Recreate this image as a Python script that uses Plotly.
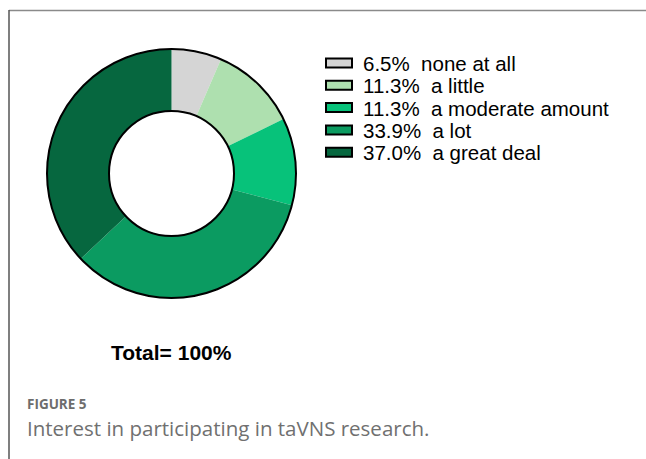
import plotly.graph_objects as go

# Survey responses: interest in participating in taVNS research
categories = ["none at all", "a little", "a moderate amount", "a lot", "a great deal"]
percentages = [6.5, 11.3, 11.3, 33.9, 37.0]
colors = ["#d5d5d5", "#aee0af", "#07c27a", "#0b9b61", "#06673f"]

W, H = 646, 459

def px(x):
    return x / W

def py(y):
    return 1 - y / H

# donut geometry in pixels
cx, cy, r_out, r_in = 171.5, 173.5, 124.5, 62.5

fig = go.Figure(
    go.Pie(
        labels=categories,
        values=percentages,
        hole=r_in / r_out,
        sort=False,
        direction="clockwise",
        rotation=0,
        marker=dict(colors=colors, line=dict(width=0)),
        textinfo="none",
        hoverinfo="label+percent",
        showlegend=False,
        domain=dict(x=[px(cx - r_out), px(cx + r_out)], y=[py(cy + r_out), py(cy - r_out)]),
    )
)

shapes = []
annotations = []

# outer and inner ring outlines
for r in (r_out, r_in):
    shapes.append(dict(type="circle", xref="paper", yref="paper",
                       x0=px(cx - r), x1=px(cx + r), y0=py(cy + r), y1=py(cy - r),
                       line=dict(color="black", width=2), fillcolor="rgba(0,0,0,0)"))

# legend drawn as boxes plus text
row0, step = 63, 22.3
for i, (cat, pct, col) in enumerate(zip(categories, percentages, colors)):
    yc = row0 + i * step
    shapes.append(dict(type="rect", xref="paper", yref="paper",
                       x0=px(326), x1=px(352), y0=py(yc + 4.5), y1=py(yc - 4.5),
                       fillcolor=col, line=dict(color="black", width=2)))
    annotations.append(dict(xref="paper", yref="paper", x=px(361), y=py(yc + 0.5),
                            xanchor="left", yanchor="middle", showarrow=False,
                            text=f"{pct:.1f}%&nbsp;&nbsp;{cat}",
                            font=dict(family="Liberation Sans, Arial", size=20.5, color="black")))

annotations.append(dict(xref="paper", yref="paper", x=px(cx), y=py(352),
                        xanchor="center", yanchor="middle", showarrow=False,
                        text="<b>Total= 100%</b>",
                        font=dict(family="Liberation Sans, Arial", size=21, color="black")))

annotations.append(dict(xref="paper", yref="paper", x=px(25), y=py(404),
                        xanchor="left", yanchor="middle", showarrow=False,
                        text="<b>FIGURE 5</b>",
                        font=dict(family="Open Sans", size=13.5, color="#6d6d6d")))
annotations.append(dict(xref="paper", yref="paper", x=px(25), y=py(428),
                        xanchor="left", yanchor="middle", showarrow=False,
                        text="Interest in participating in taVNS research.",
                        font=dict(family="Open Sans", size=20.5, color="#707070")))

# page frame: top and left rules
shapes.append(dict(type="line", xref="paper", yref="paper",
                   x0=px(9), x1=1, y0=py(10.5), y1=py(10.5),
                   line=dict(color="#8a8a8a", width=1.5)))
shapes.append(dict(type="line", xref="paper", yref="paper",
                   x0=px(9), x1=px(9), y0=py(10), y1=0,
                   line=dict(color="#555555", width=1.5)))

fig.update_layout(
    width=W, height=H,
    margin=dict(l=0, r=0, t=0, b=0),
    paper_bgcolor="white", plot_bgcolor="white",
    shapes=shapes, annotations=annotations,
)

fig.write_html("out.html")
